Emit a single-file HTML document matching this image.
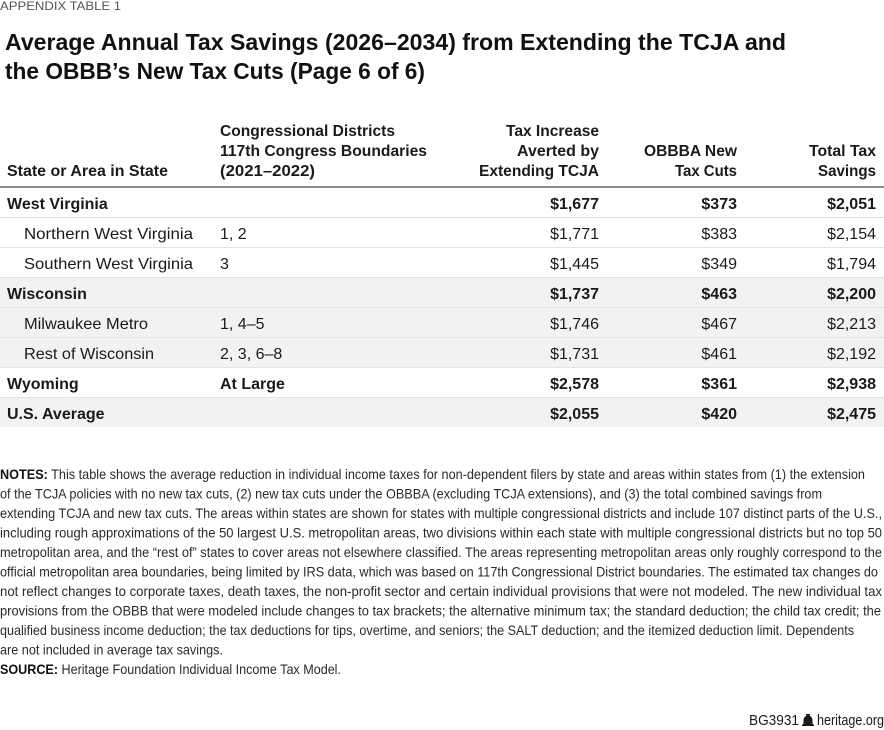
<!DOCTYPE html>
<html><head><meta charset="utf-8"><style>
html,body{margin:0;padding:0;background:#fff;}
svg{display:block;}
text{font-family:"Liberation Sans",sans-serif;}
</style></head><body>
<svg width="884" height="730" viewBox="0 0 884 730" xmlns="http://www.w3.org/2000/svg">
<rect width="884" height="730" fill="#fff"/>
<text x="0" y="10" font-size="12" fill="#555" textLength="121" lengthAdjust="spacingAndGlyphs">APPENDIX TABLE 1</text>
<text x="5" y="50" font-size="23" font-weight="bold" fill="#111" textLength="781" lengthAdjust="spacingAndGlyphs">Average Annual Tax Savings (2026–2034) from Extending the TCJA and</text>
<text x="5" y="79" font-size="23" font-weight="bold" fill="#111" textLength="420" lengthAdjust="spacingAndGlyphs">the OBBB’s New Tax Cuts (Page 6 of 6)</text>

<g font-size="15.5" font-weight="bold" fill="#1a1a1a">
<text x="7" y="176" textLength="161" lengthAdjust="spacingAndGlyphs">State or Area in State</text>
<text x="220" y="136" textLength="175" lengthAdjust="spacingAndGlyphs">Congressional Districts</text>
<text x="220" y="156" textLength="207" lengthAdjust="spacingAndGlyphs">117th Congress Boundaries</text>
<text x="220" y="176" textLength="95" lengthAdjust="spacingAndGlyphs">(2021–2022)</text>
<text x="506" y="136" textLength="93" lengthAdjust="spacingAndGlyphs">Tax Increase</text>
<text x="517" y="156" textLength="82" lengthAdjust="spacingAndGlyphs">Averted by</text>
<text x="479" y="176" textLength="120" lengthAdjust="spacingAndGlyphs">Extending TCJA</text>
<text x="644" y="156" textLength="93" lengthAdjust="spacingAndGlyphs">OBBBA New</text>
<text x="675" y="176" textLength="62" lengthAdjust="spacingAndGlyphs">Tax Cuts</text>
<text x="809" y="156" textLength="67" lengthAdjust="spacingAndGlyphs">Total Tax</text>
<text x="818" y="176" textLength="58" lengthAdjust="spacingAndGlyphs">Savings</text>
</g>

<!-- shading -->
<rect x="0" y="277" width="884" height="90" fill="#f2f2f2"/>
<rect x="0" y="397" width="884" height="30" fill="#f2f2f2"/>
<!-- separators -->
<g fill="#e4e4e4">
<rect x="0" y="217" width="884" height="1"/>
<rect x="0" y="247" width="884" height="1"/>
<rect x="0" y="277" width="884" height="1"/>
<rect x="0" y="307" width="884" height="1"/>
<rect x="0" y="337" width="884" height="1"/>
<rect x="0" y="367" width="884" height="1"/>
<rect x="0" y="397" width="884" height="1"/>
</g>
<rect x="0" y="186" width="884" height="2" fill="#8a8a8a"/>

<g font-size="16" fill="#1a1a1a">
<!-- West Virginia -->
<text x="7" y="209" font-weight="bold">West Virginia</text>
<g text-anchor="end" font-weight="bold"><text x="599" y="209">$1,677</text><text x="737" y="209">$373</text><text x="876" y="209">$2,051</text></g>
<text x="24" y="239" textLength="169" lengthAdjust="spacingAndGlyphs">Northern West Virginia</text><text x="220" y="239">1, 2</text>
<g text-anchor="end"><text x="599" y="239">$1,771</text><text x="737" y="239">$383</text><text x="876" y="239">$2,154</text></g>
<text x="24" y="269" textLength="169" lengthAdjust="spacingAndGlyphs">Southern West Virginia</text><text x="220" y="269">3</text>
<g text-anchor="end"><text x="599" y="269">$1,445</text><text x="737" y="269">$349</text><text x="876" y="269">$1,794</text></g>
<!-- Wisconsin -->
<text x="7" y="299" font-weight="bold">Wisconsin</text>
<g text-anchor="end" font-weight="bold"><text x="599" y="299">$1,737</text><text x="737" y="299">$463</text><text x="876" y="299">$2,200</text></g>
<text x="24" y="329" textLength="124" lengthAdjust="spacingAndGlyphs">Milwaukee Metro</text><text x="220" y="329">1, 4–5</text>
<g text-anchor="end"><text x="599" y="329">$1,746</text><text x="737" y="329">$467</text><text x="876" y="329">$2,213</text></g>
<text x="24" y="359" textLength="130" lengthAdjust="spacingAndGlyphs">Rest of Wisconsin</text><text x="220" y="359">2, 3, 6–8</text>
<g text-anchor="end"><text x="599" y="359">$1,731</text><text x="737" y="359">$461</text><text x="876" y="359">$2,192</text></g>
<!-- Wyoming -->
<text x="7" y="389" font-weight="bold">Wyoming</text><text x="220" y="389" font-weight="bold">At Large</text>
<g text-anchor="end" font-weight="bold"><text x="599" y="389">$2,578</text><text x="737" y="389">$361</text><text x="876" y="389">$2,938</text></g>
<!-- US -->
<text x="7" y="419" font-weight="bold">U.S. Average</text>
<g text-anchor="end" font-weight="bold"><text x="599" y="419">$2,055</text><text x="737" y="419">$420</text><text x="876" y="419">$2,475</text></g>
</g>

<g font-size="14" fill="#2a2a2a">
<text x="0" y="479" textLength="865" lengthAdjust="spacingAndGlyphs"><tspan font-weight="bold" fill="#111">NOTES:</tspan> This table shows the average reduction in individual income taxes for non-dependent filers by state and areas within states from (1) the extension</text>
<text x="0" y="498.5" textLength="822" lengthAdjust="spacingAndGlyphs">of the TCJA policies with no new tax cuts, (2) new tax cuts under the OBBBA (excluding TCJA extensions), and (3) the total combined savings from</text>
<text x="0" y="518" textLength="882" lengthAdjust="spacingAndGlyphs">extending TCJA and new tax cuts. The areas within states are shown for states with multiple congressional districts and include 107 distinct parts of the U.S.,</text>
<text x="0" y="537.5" textLength="882" lengthAdjust="spacingAndGlyphs">including rough approximations of the 50 largest U.S. metropolitan areas, two divisions within each state with multiple congressional districts but no top 50</text>
<text x="0" y="557" textLength="882" lengthAdjust="spacingAndGlyphs">metropolitan area, and the “rest of” states to cover areas not elsewhere classified. The areas representing metropolitan areas only roughly correspond to the</text>
<text x="0" y="576.5" textLength="878" lengthAdjust="spacingAndGlyphs">official metropolitan area boundaries, being limited by IRS data, which was based on 117th Congressional District boundaries. The estimated tax changes do</text>
<text x="0" y="596" textLength="882" lengthAdjust="spacingAndGlyphs">not reflect changes to corporate taxes, death taxes, the non-profit sector and certain individual provisions that were not modeled. The new individual tax</text>
<text x="0" y="615.5" textLength="881" lengthAdjust="spacingAndGlyphs">provisions from the OBBB that were modeled include changes to tax brackets; the alternative minimum tax; the standard deduction; the child tax credit; the</text>
<text x="0" y="635" textLength="854" lengthAdjust="spacingAndGlyphs">qualified business income deduction; the tax deductions for tips, overtime, and seniors; the SALT deduction; and the itemized deduction limit. Dependents</text>
<text x="0" y="654.5" textLength="223" lengthAdjust="spacingAndGlyphs">are not included in average tax savings.</text>
<text x="0" y="674" textLength="341" lengthAdjust="spacingAndGlyphs"><tspan font-weight="bold" fill="#111">SOURCE:</tspan> Heritage Foundation Individual Income Tax Model.</text>
</g>

<g fill="#1a1a1a">
<text x="749" y="725" font-size="14.5" textLength="50" lengthAdjust="spacingAndGlyphs">BG3931</text>
<path d="M806 714 h4 v1.5 h-1 q3.5 1 3.5 5.5 v2.5 l1.5 1.5 v1 h-12 v-1 l1.5 -1.5 v-2.5 q0 -4.5 3.5 -5.5 h-1 z"/>
<text x="884" y="725" font-size="14.5" text-anchor="end" textLength="67" lengthAdjust="spacingAndGlyphs">heritage.org</text>
</g>
</svg>
</body></html>
